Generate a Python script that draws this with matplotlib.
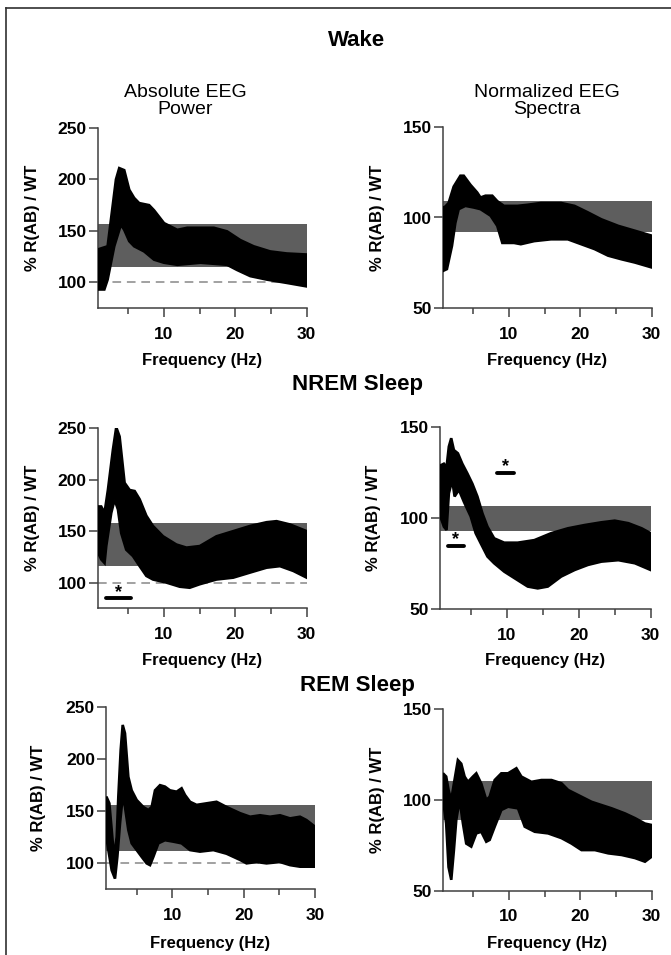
import numpy as np
import matplotlib
matplotlib.use("Agg")
import matplotlib.pyplot as plt

plt.rcParams['font.family'] = ['Liberation Sans', 'DejaVu Sans']

W, H = 671, 955

# ---- Wake, absolute power (upper / lower edge of the SEM band)
wake_abs_hi_f = [0.75, 2.09, 3.26, 3.72, 4.42, 5.12, 5.81, 6.51, 7.91, 8.6, 10, 11.86, 13.26, 15.12, 16.98, 18.84, 20.7, 22.56, 24.88, 27.2, 30]
wake_abs_hi = [132, 135, 200, 211, 209, 190, 182, 177, 175, 170, 157.5, 151, 153, 153, 153, 149.5, 141, 135, 130, 128, 127]
wake_abs_lo_f = [0.75, 1.63, 2.09, 3.02, 3.95, 4.42, 5.12, 5.81, 7.21, 8.6, 10, 11.86, 15.12, 18.84, 20.23, 22.09, 24.42, 27.2, 30]
wake_abs_lo = [93, 93, 102.6, 135, 156, 151, 140, 135, 130, 122, 119, 117, 119, 117, 112, 106, 102.6, 99.4, 96]

# ---- Wake, normalized spectra
wake_norm_hi_f = [0.75, 1.06, 1.53, 2.24, 3.18, 3.65, 4.59, 5.53, 6.0, 6.7, 7.65, 8.35, 9.29, 11.18, 12.59, 14.47, 17.29, 19.18, 21.06, 22.94, 25.3, 27.65, 30]
wake_norm_hi = [105.5, 106, 108, 117, 123, 123, 118, 113.8, 111, 112, 112, 109, 106.4, 106.4, 107, 108, 108, 106.4, 102.8, 99, 95.4, 92.7, 90]
wake_norm_lo_f = [0.75, 1.29, 2.0, 2.47, 2.94, 3.88, 5.06, 6.0, 7.41, 8.35, 9.06, 10.7, 11.65, 13.53, 15.88, 18.24, 20.12, 22.0, 23.88, 25.76, 27.65, 30]
wake_norm_lo = [70.6, 71.6, 84.4, 97, 104.6, 106.4, 105.5, 104.6, 101, 95.4, 86, 86, 85.3, 87, 88, 88, 85.3, 82.6, 79, 77, 75.2, 72.5]

# ---- NREM, absolute power
nrem_abs_hi_f = [0.75, 1.19, 1.66, 2.13, 2.83, 3.3, 3.77, 4.47, 5.18, 5.88, 6.58, 7.52, 8.45, 9.86, 11.73, 13.14, 15.01, 17.35, 19.7, 22.04, 24.38, 25.78, 27.66, 30]
nrem_abs_hi = [174, 174, 168, 190, 229, 251, 242, 197, 190, 189, 181, 165, 155, 145, 137, 134, 135.5, 145, 150, 155, 158.7, 159.7, 156.5, 150]
nrem_abs_lo_f = [0.75, 1.19, 1.66, 1.9, 2.6, 3.07, 3.54, 4.0, 4.7, 5.64, 6.58, 7.52, 8.45, 10.33, 12.2, 13.6, 15.0, 17.35, 19.7, 22.04, 24.38, 26.25, 28.13, 30]
nrem_abs_lo = [129, 122.6, 119, 135.5, 167.7, 180.6, 171, 148, 132, 125.8, 116, 106.5, 103, 100, 96, 95, 98.4, 103, 104.8, 109.7, 114.5, 116, 111.3, 104.8]

# ---- NREM, normalized spectra
nrem_norm_hi_f = [0.75, 1.24, 1.61, 1.93, 2.26, 2.63, 3.19, 3.8, 4.5, 5.2, 5.9, 6.6, 7.3, 8.23, 9.63, 11.5, 13.82, 16.15, 18.48, 20.82, 23.15, 25.0, 26.9, 28.74, 30]
nrem_norm_hi = [129, 130, 128, 139.4, 144, 137.5, 135.7, 130, 124.7, 119, 112, 102.7, 95.4, 89, 86.6, 86.6, 88, 91.8, 94.5, 96.3, 97.8, 98.7, 97.3, 94.5, 91.8]
nrem_norm_lo_f = [0.75, 1.24, 1.61, 1.93, 2.4, 2.73, 3.33, 4.03, 4.97, 5.66, 6.36, 7.3, 8.23, 9.63, 11.5, 12.9, 14.29, 15.69, 17.55, 19.42, 21.28, 23.15, 25.5, 27.8, 30]
nrem_norm_lo = [101, 95.4, 93.6, 113.7, 121, 112, 115.6, 109, 101, 91.8, 86.3, 79, 75.3, 70.7, 66, 62.5, 61.5, 62.5, 68, 71.6, 74.4, 76.2, 77, 75.3, 71.6]

# ---- REM, absolute power
rem_abs_hi_f = [0.75, 1.17, 1.5, 1.82, 2.2, 2.43, 2.76, 3.04, 3.36, 3.83, 4.3, 5.0, 5.93, 6.64, 7.1, 7.57, 8.27, 8.97, 9.67, 10.6, 11.3, 11.78, 12.48, 13.4, 14.8, 16.2, 17.6, 18.55, 19.5, 20.9, 22.3, 23.7, 25.1, 26.5, 27.9, 28.8, 30]
rem_abs_hi = [164, 157.5, 131.8, 106, 125, 164, 209, 233, 225, 183, 170, 160.7, 154, 151, 154, 170, 175, 173.6, 170, 168.7, 172, 165.5, 159, 156, 157.5, 159, 154, 151, 148, 144.6, 146, 144.6, 146, 143, 144.6, 141.4, 135]
rem_abs_lo_f = [0.75, 1.03, 1.5, 1.96, 2.29, 2.66, 3.04, 3.36, 3.83, 4.3, 5.0, 5.7, 6.4, 6.87, 7.34, 8.04, 8.97, 10.14, 11.3, 12.48, 13.88, 15.75, 17.6, 19.5, 20.4, 21.8, 23.2, 25.1, 26.5, 27.9, 30]
rem_abs_lo = [125, 112.5, 93, 85, 106, 138, 164, 154, 131.8, 119, 112.5, 106, 99.7, 98, 106, 119, 122, 120.6, 119, 112.5, 111, 112.5, 109, 103, 99.7, 101, 99.7, 101, 98, 96.5, 96.5]

# ---- REM, normalized spectra
rem_norm_hi_f = [0.75, 1.19, 1.52, 1.9, 2.27, 2.83, 3.3, 3.77, 4.24, 4.94, 5.41, 6.11, 6.81, 7.28, 7.99, 8.92, 9.86, 11.03, 11.73, 13.14, 14.54, 15.95, 17.35, 18.29, 20.16, 21.57, 22.97, 24.38, 26.25, 27.66, 29.06, 30]
rem_norm_hi = [114.7, 112.9, 105.5, 100, 109, 122, 120, 112.9, 110, 112.9, 114.7, 109, 100, 101.8, 111, 114.7, 114.7, 117.5, 112.9, 110, 111, 111, 109.2, 105.5, 101.8, 99, 97.2, 95.4, 92.6, 90, 87, 86.2]
rem_norm_lo_f = [0.75, 1.19, 1.52, 1.9, 2.27, 2.6, 3.07, 3.54, 4.0, 4.7, 5.41, 6.11, 6.81, 7.28, 7.99, 8.92, 9.86, 11.26, 12.2, 13.6, 15.48, 17.35, 18.76, 20.16, 22.04, 23.91, 25.78, 27.66, 29.06, 30]
rem_norm_lo = [100, 87, 63, 56, 72.4, 89, 100, 87, 76, 74.3, 81.6, 82.5, 77, 78, 85.3, 94.5, 96.3, 95.4, 85.3, 82.5, 81.6, 79, 76, 72.4, 72.4, 70.6, 69.7, 68, 66, 68.8]

# gray reference range (WT) for each row
abs_box = [(115, 157), (116, 158), (112, 156)]
norm_box = [(92, 109), (93, 107), (89, 110.5)]

# significance bars: (start Hz, end Hz, level)
nrem_abs_sig = [(1.8, 5.3, 85)]
nrem_norm_sig = [(8.6, 11.0, 125), (1.8, 4.0, 85)]

row_titles = ["Wake", "NREM Sleep", "REM Sleep"]
col_titles = ["Absolute EEG\nPower", "Normalized EEG\nSpectra"]
ylab = "% R(AB) / WT"
xlab = "Frequency (Hz)"

fig = plt.figure(figsize=(W / 100, H / 100), dpi=100)
fig.patch.set_facecolor('white')


def fx(x):
    return x / W


def fy(y):
    return 1 - y / H


def px_axes(x0, x1, ytop, ybot):
    return fig.add_axes([fx(x0), fy(ybot), (x1 - x0) / W, (ybot - ytop) / H])


def panel(ax, f_hi, hi, f_lo, lo, box, absolute, sig=()):
    xs = np.concatenate([np.array(f_hi), np.array(f_lo)[::-1]])
    ys = np.concatenate([np.array(hi), np.array(lo)[::-1]])
    ax.fill(xs, ys, facecolor='black', edgecolor='black', linewidth=1.9,
            joinstyle='miter', zorder=3)
    ax.axhspan(box[0], box[1], color='#5e5e5e', lw=0, zorder=1)
    if absolute:
        ax.axhline(100, color='#9a9a9a', lw=1.3, dashes=(4.8, 3.2), zorder=2)
        ax.set_ylim(75, 250)
        ax.set_yticks([100, 150, 200, 250])
    else:
        ax.set_ylim(50, 150)
        ax.set_yticks([50, 100, 150])
    ax.set_xlim(0.7, 30)
    ax.set_xticks([10, 20, 30])
    ax.set_xticks([5, 15, 25], minor=True)
    for s in ['top', 'right']:
        ax.spines[s].set_visible(False)
    for s in ['left', 'bottom']:
        ax.spines[s].set_color('#404040')
        ax.spines[s].set_linewidth(1.1)
    ax.tick_params(axis='x', which='major', direction='out', length=6.5, width=1.1,
                   color='#404040', pad=7, labelsize=12.5)
    ax.tick_params(axis='x', which='minor', direction='out', length=4, width=1.1, color='#404040')
    ax.tick_params(axis='y', which='major', direction='out', length=6.5, width=1.1,
                   color='#404040', pad=1.5, labelsize=12.5)
    for lbl in ax.get_xticklabels() + ax.get_yticklabels():
        lbl.set_fontweight('bold')
    for x1, x2, lev in sig:
        ax.plot([x1, x2], [lev, lev], color='black', lw=2.8, solid_capstyle='round', zorder=4)
        ax.annotate('*', ((x1 + x2) / 2, lev), xytext=(0, 1), textcoords='offset points',
                    ha='center', va='baseline', fontsize=13, fontweight='bold', zorder=5)


# pixel rectangles of each panel: (x0, x1, ytop, ybot)
rects = [
    [(97.7, 306.7, 128, 308), (442.7, 651.7, 126.7, 308.3)],
    [(97.7, 306.7, 428.3, 608.3), (440, 650.7, 427.3, 609.3)],
    [(106, 315, 707.3, 889), (442.7, 651.7, 709.3, 890.7)],
]
abs_data = [
    (wake_abs_hi_f, wake_abs_hi, wake_abs_lo_f, wake_abs_lo, ()),
    (nrem_abs_hi_f, nrem_abs_hi, nrem_abs_lo_f, nrem_abs_lo, nrem_abs_sig),
    (rem_abs_hi_f, rem_abs_hi, rem_abs_lo_f, rem_abs_lo, ()),
]
norm_data = [
    (wake_norm_hi_f, wake_norm_hi, wake_norm_lo_f, wake_norm_lo, ()),
    (nrem_norm_hi_f, nrem_norm_hi, nrem_norm_lo_f, nrem_norm_lo, nrem_norm_sig),
    (rem_norm_hi_f, rem_norm_hi, rem_norm_lo_f, rem_norm_lo, ()),
]
xlab_y = [360, 660, 943]
ylab_x = [(33, 378), (33, 374), (38, 378)]
title_y = [41, 384, 685]

for r in range(3):
    for c in range(2):
        x0, x1, yt, yb = rects[r][c]
        ax = px_axes(x0, x1, yt, yb)
        if c == 0:
            fh, h, fl, l, sg = abs_data[r]
            panel(ax, fh, h, fl, l, abs_box[r], True, sg)
        else:
            fh, h, fl, l, sg = norm_data[r]
            panel(ax, fh, h, fl, l, norm_box[r], False, sg)
        fig.text(fx((x0 + x1) / 2), fy(xlab_y[r]), xlab, ha='center', va='center',
                 fontsize=12, fontweight='bold')
        fig.text(fx(ylab_x[r][c]), fy((yt + yb) / 2), ylab, ha='center', va='center',
                 rotation=90, fontsize=12, fontweight='bold')
    fig.text(fx(357), fy(title_y[r]), row_titles[r], ha='center', va='center',
             fontsize=16, fontweight='bold')

fig.text(fx(185), fy(101), col_titles[0], ha='center', va='center', fontsize=14,
         linespacing=1.0)
fig.text(fx(547), fy(101), col_titles[1], ha='center', va='center', fontsize=14,
         linespacing=1.0)

# frame lines (top and left) of the original figure box
fig.add_artist(plt.Line2D([fx(6), fx(671)], [fy(8), fy(8)], color='#303030', lw=1.2))
fig.add_artist(plt.Line2D([fx(6), fx(6)], [fy(8), fy(955)], color='#303030', lw=1.2))

fig.savefig("out.png", dpi=100)
